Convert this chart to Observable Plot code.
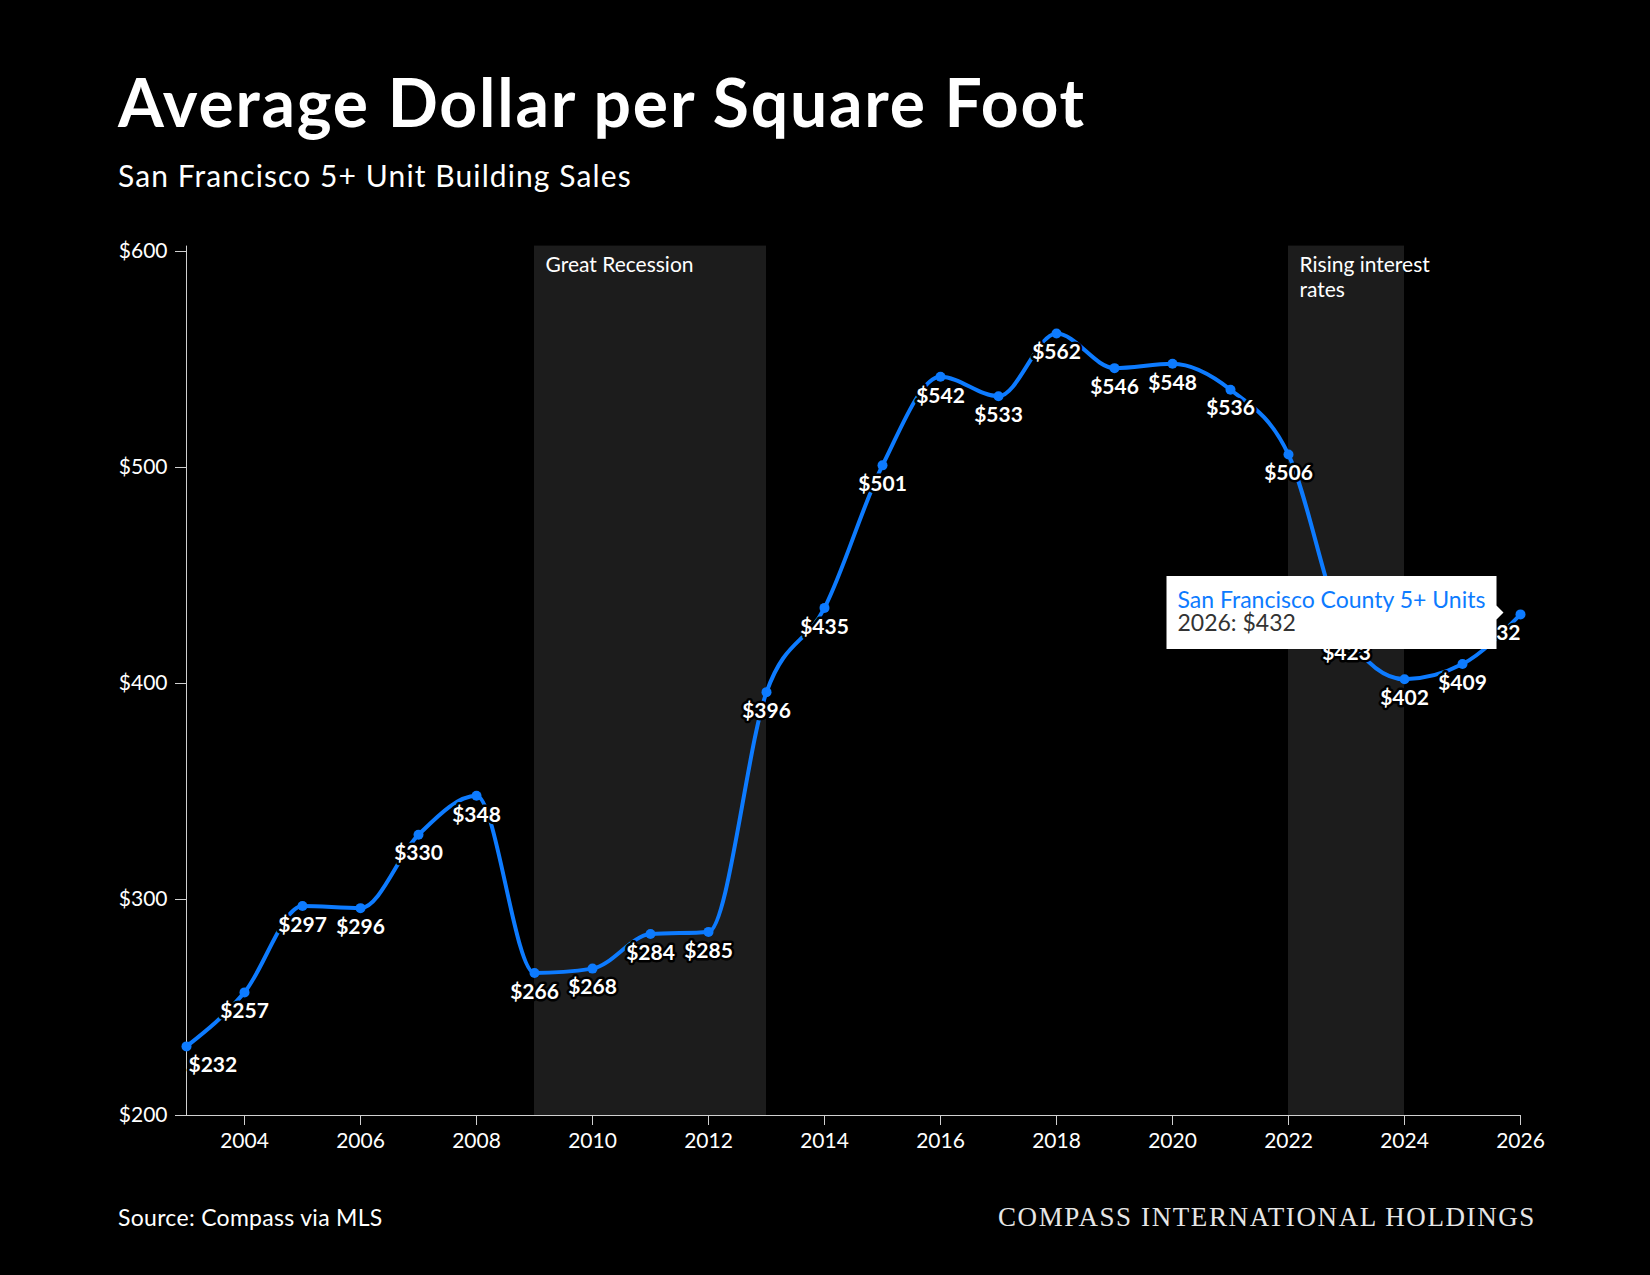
<!DOCTYPE html>
<html>
<head>
<meta charset="utf-8">
<script src="https://cdn.jsdelivr.net/npm/d3@7"></script>
<script src="https://cdn.jsdelivr.net/npm/@observablehq/plot@0.6"></script>
<style>
  html, body { margin: 0; padding: 0; background: #000; }
  body { width: 1650px; height: 1275px; overflow: hidden; position: relative; color: #fff; font-family: Lato, "Noto Sans", sans-serif; }
  #title { position: absolute; left: 118px; top: 69px; font-size: 66px; line-height: 1; font-weight: 700; letter-spacing: 1.8px; white-space: nowrap; }
  #subtitle { position: absolute; left: 118px; top: 160px; font-size: 30px; line-height: 1; font-weight: 400; letter-spacing: 1.1px; white-space: nowrap; }
  #chart { position: absolute; left: 0; top: 200px; }
  #source { position: absolute; left: 118px; top: 1206px; font-size: 23px; line-height: 1; letter-spacing: 0.3px; white-space: nowrap; }
  #brand { position: absolute; right: 114px; top: 1204px; font-size: 27px; line-height: 1; font-family: "Liberation Serif", "DejaVu Serif", serif; letter-spacing: 1.6px; color: #e6e6e6; white-space: nowrap; }
</style>
</head>
<body>
<div id="title">Average Dollar per Square Foot</div>
<div id="subtitle">San Francisco 5+ Unit Building Sales</div>
<div id="chart"></div>
<div id="source">Source: Compass via MLS</div>
<div id="brand">COMPASS INTERNATIONAL HOLDINGS</div>
<script>
const years = [2003, 2004, 2005, 2006, 2007, 2008, 2009, 2010, 2011, 2012, 2013, 2014, 2015, 2016, 2017, 2018, 2019, 2020, 2021, 2022, 2023, 2024, 2025, 2026];
const values = [232, 257, 297, 296, 330, 348, 266, 268, 284, 285, 396, 435, 501, 542, 533, 562, 546, 548, 536, 506, 423, 402, 409, 432];
const periodLabels = ["Great Recession", "Rising interest\nrates"];
const periodStarts = [2009, 2022];
const periodEnds = [2013, 2024];
const yTicks = [200, 300, 400, 500, 600];
const xTicks = [2004, 2006, 2008, 2010, 2012, 2014, 2016, 2018, 2020, 2022, 2024, 2026];
const seriesName = "San Francisco County 5+ Units";

const data = years.map((year, i) => ({year, value: values[i]}));
const periods = periodLabels.map((label, i) => ({label, start: periodStarts[i], end: periodEnds[i]}));
const last = data.length - 1;

const blue = "#0d7bff";
const TOP = 602.5;
const labelStyle = {x: "year", y: "value", text: d => "$" + d.value, dy: 19, fill: "#fff", stroke: "#000", strokeWidth: 5, fontSize: 21, fontWeight: 700};

const chart = Plot.plot({
  width: 1650,
  height: 980,
  marginTop: 51,
  marginBottom: 65,
  marginLeft: 186,
  marginRight: 130,
  style: {background: "#000", color: "#fff", fontFamily: "Lato, 'Noto Sans', sans-serif", fontSize: "21px", overflow: "visible"},
  x: {domain: [2003, 2026]},
  y: {domain: [200, 600]},
  marks: [
    Plot.rectY(periods, {x1: "start", x2: "end", y1: 200, y2: TOP, fill: "#1c1c1c"}),
    Plot.text(periods, {x: "start", y: TOP, text: "label", textAnchor: "start", lineAnchor: "top", dx: 11, dy: 8, fill: "#fff", fontSize: 21, lineHeight: 1.2}),
    Plot.ruleX([2003], {y1: 200, y2: TOP, stroke: "#d0d0d0", strokeWidth: 1}),
    Plot.ruleY([200], {x1: 2003, x2: 2026, stroke: "#d0d0d0", strokeWidth: 1}),
    Plot.axisY({ticks: yTicks, tickFormat: d => "$" + d, tickSize: 11, tickPadding: 8, stroke: "#d0d0d0", fill: "#fff", fontSize: 21, label: null}),
    Plot.axisX({ticks: xTicks, tickFormat: d => String(d), tickSize: 10, tickPadding: 8, stroke: "#d0d0d0", fill: "#fff", fontSize: 21, label: null}),
    Plot.line(data, {x: "year", y: "value", stroke: blue, strokeWidth: 4, curve: "monotone-x"}),
    Plot.dot(data, {x: "year", y: "value", r: 5, fill: blue}),
    Plot.text(data, {...labelStyle, filter: (d, i) => i === 0, textAnchor: "start", dx: 2}),
    Plot.text(data, {...labelStyle, filter: (d, i) => i > 0 && i < last}),
    Plot.text(data, {...labelStyle, filter: (d, i) => i === last, textAnchor: "end"}),
    Plot.tip([data[last]], {
      x: "year", y: "value", anchor: "right", dx: -17, dy: -2, pointerSize: 14,
      title: d => seriesName + "\n" + d.year + ": $" + d.value,
      fontSize: 23, lineHeight: 1.0, textPadding: 11, fill: "#fff", stroke: "none"
    })
  ]
});

document.getElementById("chart").appendChild(chart);

function styleTip() {
  const tipG = d3.select(chart).select('g[aria-label="tip"]');
  tipG.selectAll("path").attr("fill", "#fff").attr("stroke", "none").style("filter", "none");
  tipG.selectAll("text").attr("fill", "#333").attr("stroke", "none");
  const tspans = tipG.selectAll("tspan").nodes();
  tspans.forEach((t, i) => t.setAttribute("fill", i === 0 ? blue : "#333"));
}
styleTip();
requestAnimationFrame(styleTip);
</script>
</body>
</html>
